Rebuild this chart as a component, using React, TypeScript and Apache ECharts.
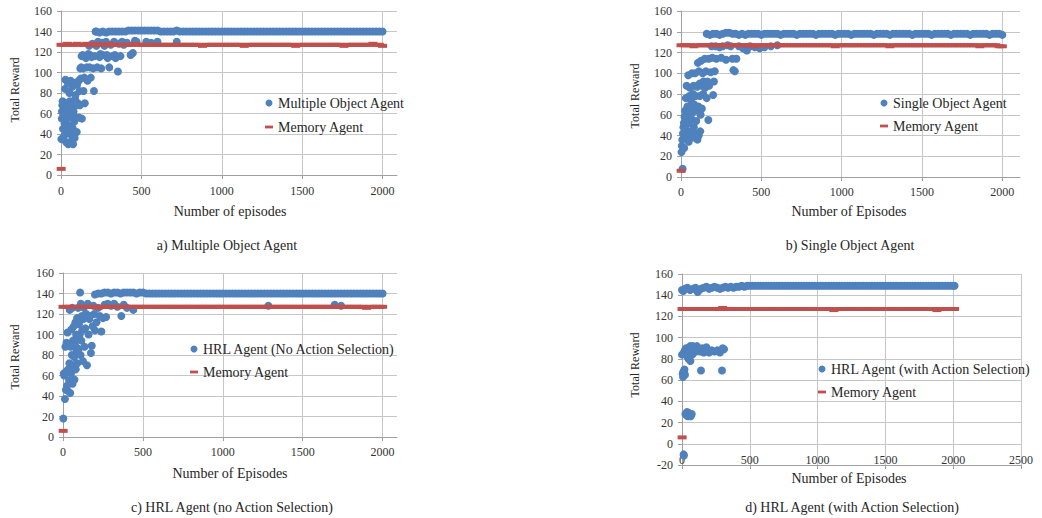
import React, { useEffect, useRef } from "react";
import * as echarts from "echarts";

// ---------- data ----------
const gridEpisodes = [
  0,20,40,60,80,100,120,140,160,180,
  200,220,240,260,280,300,320,340,360,380,
  400,420,440,460,480,500,520,540,560,580,
  600,620,640,660,680,700,720,740,760,780,
  800,820,840,860,880,900,920,940,960,980,
  1000,1020,1040,1060,1080,1100,1120,1140,1160,1180,
  1200,1220,1240,1260,1280,1300,1320,1340,1360,1380,
  1400,1420,1440,1460,1480,1500,1520,1540,1560,1580,
  1600,1620,1640,1660,1680,1700,1720,1740,1760,1780,
  1800,1820,1840,1860,1880,1900,1920,1940,1960,1980,
  2000,
];

const agentNames = ["Multiple Object Agent", "Single Object Agent", "HRL Agent (No Action Selection)", "HRL Agent (with Action Selection)"];
const memoryName = "Memory Agent";
const captions = ["a) Multiple Object Agent", "b) Single Object Agent", "c) HRL Agent (no Action Selection)", "d) HRL Agent (with Action Selection)"];
const xTitles = ["Number of episodes", "Number of Episodes", "Number of Episodes", "Number of Episodes"];
const yTitle = "Total Reward";
const xGridTicks = [500, 1000, 1500, 2000];

// Panel a
const plateauA = [
  null,null,null,null,null,null,null,null,null,null,
  null,140,139,140,139,140,140,140,140,140,
  140,141,141,141,141,141,141,141,141,141,
  141,140,140,140,140,140,141,140,140,140,
  140,140,140,140,140,140,140,140,140,140,
  140,140,140,140,140,140,140,140,140,140,
  140,140,140,140,140,140,140,140,140,140,
  140,140,140,140,140,140,140,140,140,140,
  140,140,140,140,140,140,140,140,140,140,
  140,140,140,140,140,140,140,140,140,140,
  140,
];
const memoryA = [
  127,127,128,127,127,128,127,127,128,127,
  127,128,127,127,127,128,127,127,127,127,
  127,127,127,128,127,127,127,127,127,127,
  127,127,127,127,127,127,127,127,127,127,
  127,127,127,127,126,127,127,127,127,127,
  127,127,127,127,127,127,127,126,127,127,
  127,127,127,127,127,127,127,127,127,127,
  127,127,127,126,127,127,127,127,127,127,
  127,127,127,127,127,127,127,127,126,127,
  127,127,127,127,127,127,127,128,127,127,
  126,
];
const memoryStartA = [[1, 6]];
const earlyA = [[2,35],[5,55],[6,62],[8,68],[10,72],[12,45],[15,58],[18,66],[20,38],[22,50],[25,84],[28,93],[30,60],[32,32],[35,70],[38,44],[40,55],[42,90],[45,30],[48,64],[50,48],[52,80],[55,72],[58,40],[60,92],[62,58],[65,68],[68,34],[70,86],[72,46],[75,30],[78,62],[80,90],[82,52],[85,36],[88,74],[90,78],[92,56],[95,68],[98,42],[100,88],[105,70],[110,92],[112,56],[115,82],[118,68],[120,104],[122,94],[125,105],[128,116],[130,55],[135,117],[138,104],[140,82],[145,95],[148,70],[150,116],[155,114],[160,105],[165,92],[170,118],[175,126],[178,105],[180,117],[185,95],[190,115],[195,128],[200,104],[205,82],[210,116],[215,140],[220,126],[225,105],[230,130],[240,115],[245,118],[250,104],[255,129],[260,117],[270,126],[280,130],[285,117],[290,114],[300,105],[310,127],[320,116],[330,130],[335,117],[340,114],[354,101],[360,128],[370,116],[380,130],[390,127],[410,129],[433,117],[447,119],[460,131],[470,130],[530,130],[560,129],[600,130],[720,130]];

// Panel b
const plateauB = [
  null,null,null,null,null,null,null,null,138,137,
  138,138,137,138,139,139,138,138,137,138,
  137,138,138,138,138,137,138,138,138,138,
  138,137,138,138,138,138,137,138,138,138,
  138,138,137,138,138,138,138,138,137,138,
  138,138,138,137,138,138,138,138,138,138,
  137,138,138,138,138,137,138,138,138,138,
  138,138,137,138,138,138,138,138,137,138,
  138,138,138,138,137,138,138,138,138,138,
  137,138,138,138,138,138,137,138,138,138,
  137,
];
const memoryB = [
  127,127,127,127,126,127,127,127,127,127,
  127,127,127,127,127,127,127,127,127,127,
  127,127,127,126,127,127,127,127,127,127,
  127,127,127,127,127,127,127,127,127,127,
  127,127,127,127,127,127,127,127,126,127,
  127,127,127,127,127,127,127,127,127,127,
  127,127,127,127,127,126,127,127,127,127,
  127,127,127,127,127,127,127,127,127,127,
  127,127,127,127,127,127,127,127,127,127,
  127,127,127,126,127,127,127,127,127,126,
  126,
];
const memoryStartB = [[1, 6]];
const earlyB = [[10,8],[3,24],[5,30],[8,36],[12,42],[15,48],[18,52],[20,28],[22,58],[25,64],[28,46],[30,76],[32,56],[35,88],[38,40],[40,68],[42,62],[45,98],[48,34],[50,52],[52,78],[55,86],[58,44],[60,66],[62,74],[65,56],[68,100],[70,62],[72,38],[75,80],[78,88],[80,48],[82,70],[85,66],[88,100],[90,42],[92,78],[95,54],[98,64],[100,87],[102,36],[105,110],[108,68],[110,40],[112,102],[115,90],[118,78],[120,44],[122,60],[125,112],[128,88],[130,66],[135,100],[138,80],[140,92],[148,114],[150,86],[155,102],[160,76],[165,92],[170,55],[172,114],[175,88],[185,101],[190,126],[195,115],[200,79],[205,92],[210,102],[215,126],[220,114],[240,125],[250,115],[260,126],[280,113],[290,127],[310,126],[320,114],[326,103],[335,102],[345,114],[360,126],[385,124],[410,122],[430,126],[460,125],[490,124],[520,125],[560,126],[600,127]];

// Panel c
const plateauC = [
  null,null,null,null,null,null,null,null,null,null,
  139,140,140,141,141,140,141,141,140,141,
  141,141,141,140,141,141,140,140,140,140,
  140,140,140,140,140,140,140,140,140,140,
  140,140,140,140,140,140,140,140,140,140,
  140,140,140,140,140,140,140,140,140,140,
  140,140,140,140,140,140,140,140,140,140,
  140,140,140,140,140,140,140,140,140,140,
  140,140,140,140,140,140,140,140,140,140,
  140,140,140,140,140,140,140,140,140,140,
  140,
];
const memoryC = [
  127,127,127,127,127,127,127,127,127,127,
  127,126,127,127,127,127,127,127,127,127,
  127,127,127,127,127,127,127,127,127,127,
  127,127,127,127,127,127,127,127,127,127,
  127,127,127,127,127,127,127,127,127,127,
  127,127,127,127,127,127,127,127,127,127,
  127,127,127,127,127,127,127,127,127,127,
  127,127,127,127,127,127,127,127,127,127,
  127,127,127,127,127,127,127,127,127,127,
  127,127,127,127,127,126,127,127,127,127,
  127,
];
const memoryStartC = [[1, 6]];
const earlyC = [[2,18],[5,62],[8,60],[12,37],[15,88],[18,46],[20,64],[22,92],[25,50],[28,102],[30,45],[32,66],[35,90],[38,55],[40,72],[42,124],[45,43],[48,88],[50,62],[52,105],[55,80],[58,126],[60,52],[62,94],[65,70],[68,108],[70,78],[72,56],[75,90],[78,112],[80,66],[82,100],[85,84],[88,116],[90,72],[92,96],[95,126],[98,86],[100,110],[105,100],[107,141],[110,80],[112,130],[115,94],[118,118],[120,104],[125,74],[128,115],[130,126],[135,88],[140,106],[145,120],[150,70],[155,130],[160,100],[165,115],[170,118],[175,82],[180,89],[185,108],[190,128],[195,120],[200,104],[210,112],[220,126],[230,118],[240,103],[250,116],[260,129],[270,117],[280,130],[300,128],[320,130],[340,127],[365,118],[380,129],[400,126],[440,124],[1285,128],[1700,129],[1740,128]];

// Panel d
const plateauD = [
  145,146,147,145,146,147,144,146,147,148,
  146,147,148,147,146,147,148,147,148,147,
  148,148,149,148,149,149,149,149,149,149,
  149,149,149,149,149,149,149,149,149,149,
  149,149,149,149,149,149,149,149,149,149,
  149,149,149,149,149,149,149,149,149,149,
  149,149,149,149,149,149,149,149,149,149,
  149,149,149,149,149,149,149,149,149,149,
  149,149,149,149,149,149,149,149,149,149,
  149,149,149,149,149,149,149,149,149,149,
  149,
];
const memoryD = [
  127,127,127,127,127,127,127,127,127,127,
  127,127,127,127,127,128,127,127,127,127,
  127,127,127,127,127,127,127,127,127,127,
  127,127,127,127,127,127,127,127,127,127,
  127,127,127,127,127,127,127,127,127,127,
  127,127,127,127,127,127,126,127,127,127,
  127,127,127,127,127,127,127,127,127,127,
  127,127,127,127,127,127,127,127,127,127,
  127,127,127,127,127,127,127,127,127,127,
  127,127,127,127,126,127,127,127,127,127,
  127,
];
const memoryStartD = [[1, 6], [2010, 127]];
const earlyD = [[10,144],[115,143],[2010,149],[0,84],[5,66],[8,63],[10,68],[12,-10],[14,-11],[15,86],[18,70],[20,88],[22,65],[25,28],[28,84],[30,90],[32,27],[35,86],[38,30],[40,82],[42,26],[45,90],[48,80],[50,29],[52,88],[55,84],[58,27],[60,92],[62,78],[65,26],[68,86],[70,90],[72,28],[75,84],[80,92],[85,88],[90,86],[100,90],[110,92],[120,88],[130,87],[140,69],[150,90],[160,86],[170,88],[180,91],[200,86],[220,88],[240,87],[260,88],[280,86],[295,69],[300,90],[310,89]];

// ---------- styling / layout ----------
const FONT = '"Liberation Serif", "Times New Roman", serif';
const BLUE = "#4f81bd";
const RED = "#c0504d";
const GRIDC = "#c6c6c6";
const AXISC = "#a0a0a0";
const TEXTC = "#262626";
const DASH_ICON = "path://M0,0L10,0L10,3.5L0,3.5Z";

const layouts = [
  { left: 61, top: 11, width: 336, height: 164, xMax: 2090, yMin: 0, labelMargin: 10, splitX: false,
    legend: { left: 260, top: 91, gap: 10 }, yName: [15, 90], xName: [230, 211], caption: [227, 245] },
  { left: 681, top: 11, width: 339, height: 166, xMax: 2110, yMin: 0, labelMargin: 9, splitX: false,
    legend: { left: 875, top: 91, gap: 9 }, yName: [635, 96], xName: [849, 211], caption: [850, 245] },
  { left: 63, top: 273, width: 334, height: 164, xMax: 2090, yMin: 0, labelMargin: 9, splitX: false,
    legend: { left: 185, top: 337, gap: 9 }, yName: [15, 357], xName: [230, 473], caption: [232, 507] },
  { left: 682, top: 274, width: 339, height: 191, xMax: 2500, yMin: -20, labelMargin: -11, splitX: true,
    legend: { left: 813, top: 357, gap: 9 }, yName: [635, 365], xName: [849, 478], caption: [852, 507] },
];

function zip(xs: number[], ys: (number | null)[]) {
  const out: number[][] = [];
  xs.forEach((x, i) => {
    const y = ys[i];
    if (y !== null && y !== undefined) out.push([x, y]);
  });
  return out;
}

const blueData = [
  earlyA.concat(zip(gridEpisodes, plateauA)),
  earlyB.concat(zip(gridEpisodes, plateauB)),
  earlyC.concat(zip(gridEpisodes, plateauC)),
  earlyD.concat(zip(gridEpisodes, plateauD)),
];
const memData = [
  memoryStartA.concat(zip(gridEpisodes, memoryA)),
  memoryStartB.concat(zip(gridEpisodes, memoryB)),
  memoryStartC.concat(zip(gridEpisodes, memoryC)),
  memoryStartD.concat(zip(gridEpisodes, memoryD)),
];

function textEl(t: string, x: number, y: number, size: number, rotation = 0) {
  return {
    type: "text",
    x,
    y,
    rotation,
    silent: true,
    style: {
      text: t,
      fill: TEXTC,
      fontSize: size,
      fontFamily: FONT,
      align: "center",
      verticalAlign: "middle",
      textAlign: "center",
      textVerticalAlign: "middle",
    },
  };
}

function buildOption() {
  const grid: any[] = [];
  const xAxis: any[] = [];
  const yAxis: any[] = [];
  const series: any[] = [];
  const legend: any[] = [];
  const graphic: any[] = [];

  layouts.forEach((L, i) => {
    grid.push({ left: L.left, top: L.top, width: L.width, height: L.height, containLabel: false });
    xAxis.push({
      type: "value",
      gridIndex: i,
      min: 0,
      max: L.xMax,
      interval: 500,
      axisLine: { show: true, onZero: false, lineStyle: { color: AXISC } },
      axisTick: { show: true, length: 4, lineStyle: { color: AXISC } },
      axisLabel: {
        margin: L.labelMargin,
        fontFamily: FONT,
        fontSize: 12,
        color: "#333",
        showMaxLabel: L.splitX,
        formatter: (v: number) => (v % 500 === 0 ? String(v) : ""),
      },
      splitLine: { show: L.splitX, lineStyle: { color: GRIDC } },
    });
    yAxis.push({
      type: "value",
      gridIndex: i,
      min: L.yMin,
      max: 160,
      interval: 20,
      axisLine: { show: true, onZero: false, lineStyle: { color: AXISC } },
      axisTick: { show: true, length: 4, lineStyle: { color: AXISC } },
      axisLabel: { margin: 9, fontFamily: FONT, fontSize: 12, color: "#333" },
      splitLine: { show: true, lineStyle: { color: GRIDC } },
    });
    series.push({
      type: "scatter",
      name: agentNames[i],
      xAxisIndex: i,
      yAxisIndex: i,
      data: blueData[i],
      symbol: "circle",
      symbolSize: 8,
      itemStyle: { color: BLUE, opacity: 1 },
      z: 2,
      markLine: L.splitX
        ? undefined
        : {
            silent: true,
            symbol: "none",
            z: 1,
            label: { show: false },
            lineStyle: { color: GRIDC, width: 1, type: "solid" },
            data: xGridTicks.map((t) => ({ xAxis: t })),
          },
    });
    series.push({
      type: "scatter",
      name: memoryName,
      xAxisIndex: i,
      yAxisIndex: i,
      data: memData[i],
      symbol: "rect",
      symbolSize: [9, 4],
      itemStyle: { color: RED, opacity: 1 },
      z: 3,
    });
    legend.push({
      left: L.legend.left,
      top: L.legend.top,
      orient: "vertical",
      itemGap: L.legend.gap,
      itemWidth: 8,
      itemHeight: 7,
      selectedMode: false,
      textStyle: { fontFamily: FONT, fontSize: 14, color: TEXTC },
      data: [
        { name: agentNames[i], icon: "circle" },
        { name: memoryName, icon: DASH_ICON },
      ],
    });
    graphic.push(textEl(yTitle, L.yName[0], L.yName[1], 12, Math.PI / 2));
    graphic.push(textEl(xTitles[i], L.xName[0], L.xName[1], 14));
    graphic.push(textEl(captions[i], L.caption[0], L.caption[1], 14));
  });

  return {
    animation: false,
    backgroundColor: "#ffffff",
    textStyle: { fontFamily: FONT },
    grid,
    xAxis,
    yAxis,
    series,
    legend,
    graphic,
  };
}

export default function App() {
  const ref = useRef<HTMLDivElement>(null);
  useEffect(() => {
    if (!ref.current) return;
    const chart = echarts.init(ref.current, undefined, { renderer: "svg" });
    chart.setOption(buildOption() as any);
    return () => chart.dispose();
  }, []);
  return (
    <div
      ref={ref}
      style={{ position: "absolute", left: 0, top: 0, width: 1042, height: 518, background: "#fff" }}
    />
  );
}
